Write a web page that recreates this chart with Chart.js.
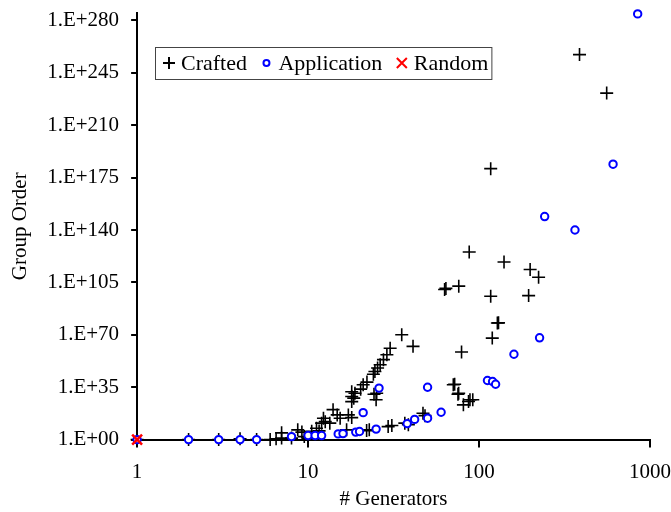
<!DOCTYPE html>
<html>
<head>
<meta charset="utf-8">
<script src="https://cdn.jsdelivr.net/npm/chart.js@4/dist/chart.umd.min.js"></script>
<style>
  html, body { margin: 0; padding: 0; background: #fff; }
  #wrap { width: 671px; height: 512px; }
</style>
</head>
<body>
<div id="wrap"><canvas id="myChart"></canvas></div>
<script>
// data: x = # generators, y = exponent of group order (1.E+y)
const craftedX = [1, 2, 3, 4, 5, 6, 6.5, 7, 7, 8, 8.7, 9.2, 9.5, 10, 10.5, 11.2, 11.6, 12, 12.3, 12.6,
  13.4, 14, 14.8, 15.4, 16.8, 17.2, 18, 18, 18, 18, 18.5, 18.8, 20.3, 21, 22, 22.1, 22.8, 24.1, 24.3, 24.6,
  25, 25.2, 25.5, 26.4, 27.6, 28.9, 29.4, 30.2, 30.9, 35.3, 36.8, 38.6, 41.1, 47, 48.3, 62.9, 64, 70.7, 72, 75.3,
  76, 76.1, 79, 81, 86.8, 88.5, 91.9, 87.6, 117, 117, 119.5, 128, 130, 140, 195, 199, 223, 387, 558];
const craftedY = [0, 0, 0, 0.5, 0, 0, 0.5, 1, 4.5, 1, 6.5, 5, 2, 1, 5.5, 7.6, 5.8, 11, 14.3, 12,
  11, 20, 16.5, 14.3, 6.5, 16.5, 14.7, 25.4, 28.8, 32, 27.7, 31, 33.7, 36.6, 6, 38.4, 6.5, 43.7, 30.3, 45.5,
  26.6, 31, 47.8, 50, 53.4, 56.7, 8.7, 61, 9.4, 70, 11, 10, 62.3, 17.6, 16, 100.3, 101, 36.6, 37, 30.3,
  31, 102.5, 58.5, 23.2, 25.5, 26.6, 26.6, 125.3, 95.8, 181, 67.8, 77.9, 78, 118.6, 96.2, 113.6, 108.5, 257.2, 231.5];

const appX = [1, 2, 3, 4, 5, 8, 10, 11, 12, 15, 16, 19, 20, 21, 25, 26, 38, 42, 50, 50, 60,
  112, 120, 125, 160, 226, 242, 364, 608, 847];
const appY = [0, 0, 0, 0, 0, 2, 2.7, 2.7, 2.7, 3.8, 4, 5, 5.4, 18, 7, 34.4, 10.7, 13.5, 14.3, 35, 18.3,
  39.5, 38.8, 37, 57, 68, 149, 140, 184, 284.4];

const randomX = [1];
const randomY = [0];

const xTicks = [1, 10, 100, 1000];
const yTicks = [0, 35, 70, 105, 140, 175, 210, 245, 280];

const seriesNames = ['Crafted', 'Application', 'Random'];

function pts(xs, ys) {
  return xs.map((x, i) => ({x: x, y: ys[i]}));
}

const font = 'Liberation Serif';

const data = {
  datasets: [{
    label: seriesNames[0],
    data: pts(craftedX, craftedY),
    pointStyle: 'cross',
    pointRadius: 6.5,
    borderColor: '#000',
    backgroundColor: '#000',
    pointBorderWidth: 1.6,
    clip: false,
    order: 2
  }, {
    label: seriesNames[1],
    data: pts(appX, appY),
    pointStyle: 'circle',
    pointRadius: 3.7,
    borderColor: '#0000ff',
    backgroundColor: '#ffffff',
    pointBorderWidth: 2,
    clip: false,
    order: 1
  }, {
    label: seriesNames[2],
    data: pts(randomX, randomY),
    pointStyle: 'crossRot',
    pointRadius: 7,
    borderColor: '#ff0000',
    backgroundColor: '#ff0000',
    pointBorderWidth: 2.5,
    clip: false,
    order: 0
  }]
};

// legend box drawn inside the plot, like the original
const boxLegend = {
  id: 'boxLegend',
  afterDraw(chart) {
    const ctx = chart.ctx;
    const top = 47, h = 32, cy = top + h / 2;
    ctx.save();
    ctx.font = '22px "' + font + '"';
    ctx.textBaseline = 'middle';
    let x = 169;
    const left = 155;
    let end = x;
    chart.data.datasets.forEach((ds, i) => {
      ctx.strokeStyle = ds.borderColor;
      ctx.lineWidth = 2;
      ctx.beginPath();
      if (ds.pointStyle === 'cross') {
        ctx.moveTo(x - 6, cy); ctx.lineTo(x + 6, cy);
        ctx.moveTo(x, cy - 6); ctx.lineTo(x, cy + 6);
        ctx.stroke();
      } else if (ds.pointStyle === 'circle') {
        ctx.arc(x, cy, 3, 0, Math.PI * 2);
        ctx.fillStyle = '#fff';
        ctx.fill();
        ctx.stroke();
      } else {
        ctx.moveTo(x - 5, cy - 5); ctx.lineTo(x + 5, cy + 5);
        ctx.moveTo(x + 5, cy - 5); ctx.lineTo(x - 5, cy + 5);
        ctx.stroke();
      }
      ctx.fillStyle = '#000';
      ctx.fillText(ds.label, x + 12, cy + 1);
      end = x + 12 + ctx.measureText(ds.label).width;
      x = end + 19.5;
    });
    ctx.strokeStyle = '#444';
    ctx.lineWidth = 1;
    ctx.strokeRect(left + 0.5, top + 0.5, end + 3 - left, h);
    ctx.restore();
  }
};

const config = {
  type: 'scatter',
  data: data,
  options: {
    responsive: true,
    maintainAspectRatio: false,
    animation: false,
    layout: {
      padding: {left: 8, right: 0, top: 0, bottom: 0}
    },
    scales: {
      x: {
        type: 'logarithmic',
        min: 1,
        max: 1000,
        afterBuildTicks: (scale) => {
          scale.ticks = xTicks.map(v => ({value: v}));
        },
        afterFit: (scale) => {
          scale.paddingLeft = 0;
          scale.paddingRight = 21;
        },
        border: {color: '#000', width: 2},
        grid: {
          display: true,
          drawOnChartArea: false,
          color: '#000',
          lineWidth: 2,
          tickLength: 8
        },
        ticks: {
          color: '#000',
          padding: 12,
          maxRotation: 0,
          font: {family: font, size: 21},
          callback: (v) => String(v)
        },
        title: {
          display: true,
          text: '# Generators',
          color: '#000',
          padding: {top: -10, bottom: 0},
          font: {family: font, size: 21}
        }
      },
      y: {
        min: 0,
        max: 285,
        afterBuildTicks: (scale) => {
          scale.ticks = yTicks.map(v => ({value: v}));
        },
        afterFit: (scale) => {
          scale.paddingTop = 13;
          scale.paddingBottom = 0;
        },
        border: {color: '#000', width: 2},
        grid: {
          display: true,
          drawOnChartArea: false,
          color: '#000',
          lineWidth: 2,
          tickLength: 6
        },
        ticks: {
          color: '#000',
          padding: 12,
          font: {family: font, size: 21},
          callback: (v) => '1.E+' + String(v).padStart(2, '0')
        },
        title: {
          display: true,
          text: 'Group Order',
          color: '#000',
          padding: {top: 0, bottom: 2},
          font: {family: font, size: 21}
        }
      }
    },
    plugins: {
      legend: {display: false},
      tooltip: {enabled: false}
    }
  },
  plugins: [boxLegend]
};

const myChart = new Chart(document.getElementById('myChart'), config);
</script>
</body>
</html>
